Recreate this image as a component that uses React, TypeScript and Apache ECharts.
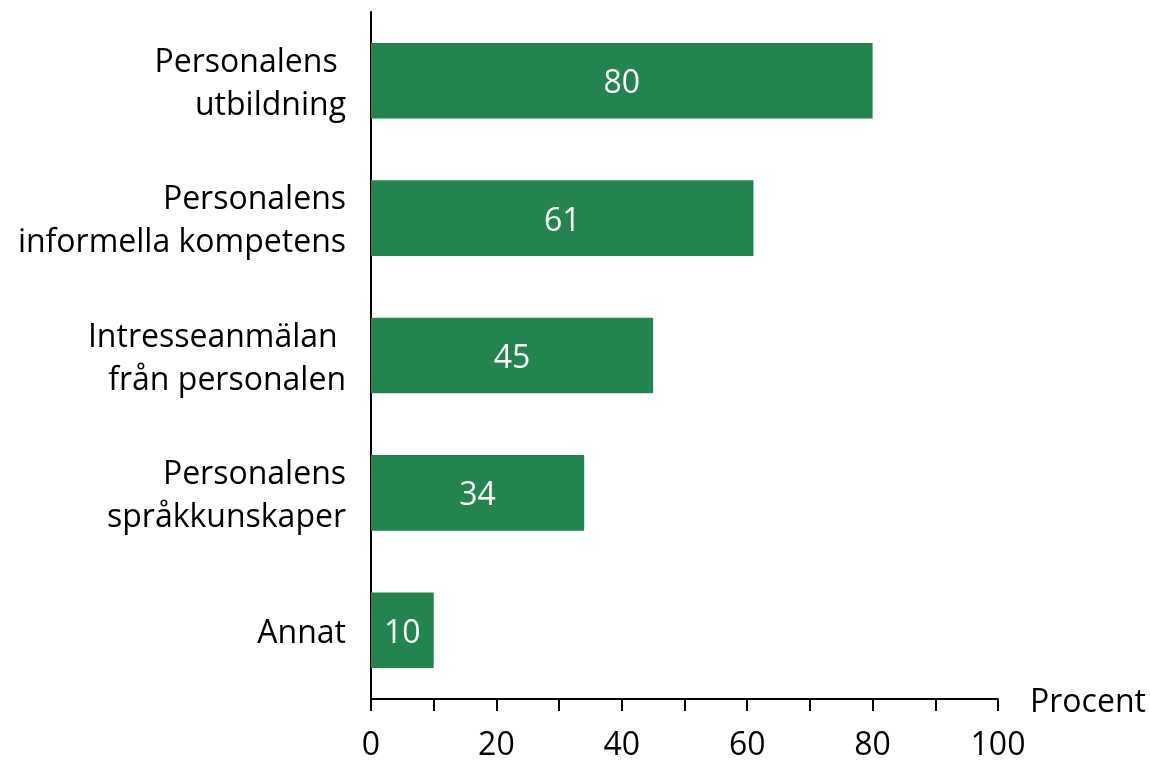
import React, { useEffect, useRef } from "react";
import * as echarts from "echarts";

const categories = [
  "Personalens\u00a0\nutbildning",
  "Personalens\ninformella kompetens",
  "Intresseanmälan\u00a0\nfrån personalen",
  "Personalens\nspråkkunskaper",
  "Annat",
];
const values = [80, 61, 45, 34, 10];
const xTicks = { min: 0, max: 100, interval: 20 };
const xName = "Procent";

const FONT = "Open Sans";
const FS = 32;

export default function App() {
  const ref = useRef<HTMLDivElement>(null);
  useEffect(() => {
    if (!ref.current) return;
    const chart = echarts.init(ref.current, undefined, { renderer: "svg" });
    chart.setOption({
      animation: false,
      grid: { left: 371, right: 152, top: 12, bottom: 63, containLabel: false },
      xAxis: {
        type: "value",
        min: xTicks.min,
        max: xTicks.max,
        interval: xTicks.interval,
        name: xName,
        nameLocation: "end",
        nameGap: 32,
        nameTextStyle: { fontFamily: FONT, fontSize: 32, color: "#000", verticalAlign: "middle" },
        axisLine: { show: true, lineStyle: { color: "#000", width: 2 } },
        axisTick: { show: true, length: 12, lineStyle: { color: "#000", width: 2 } },
        minorTick: { show: true, splitNumber: 2, length: 12, lineStyle: { color: "#000", width: 2 } },
        splitLine: { show: false },
        axisLabel: { fontFamily: FONT, fontSize: 32, color: "#000", margin: 27 },
      },
      yAxis: {
        type: "category",
        data: categories,
        inverse: true,
        axisLine: { show: true, lineStyle: { color: "#000", width: 2 } },
        axisTick: { show: false },
        axisLabel: {
          fontFamily: FONT,
          fontSize: FS,
          color: "#000",
          margin: 25,
          lineHeight: 43,
          align: "right",
        },
      },
      series: [
        {
          type: "bar",
          data: values,
          barCategoryGap: "45%",
          itemStyle: { color: "#24844F" },
          label: {
            show: true,
            position: "inside",
            color: "#fff",
            fontFamily: FONT,
            fontSize: FS,
          },
        },
      ],
    });
    return () => chart.dispose();
  }, []);
  return (
    <div
      ref={ref}
      style={{ position: "fixed", left: 0, top: 0, width: 1150, height: 762 }}
    />
  );
}
